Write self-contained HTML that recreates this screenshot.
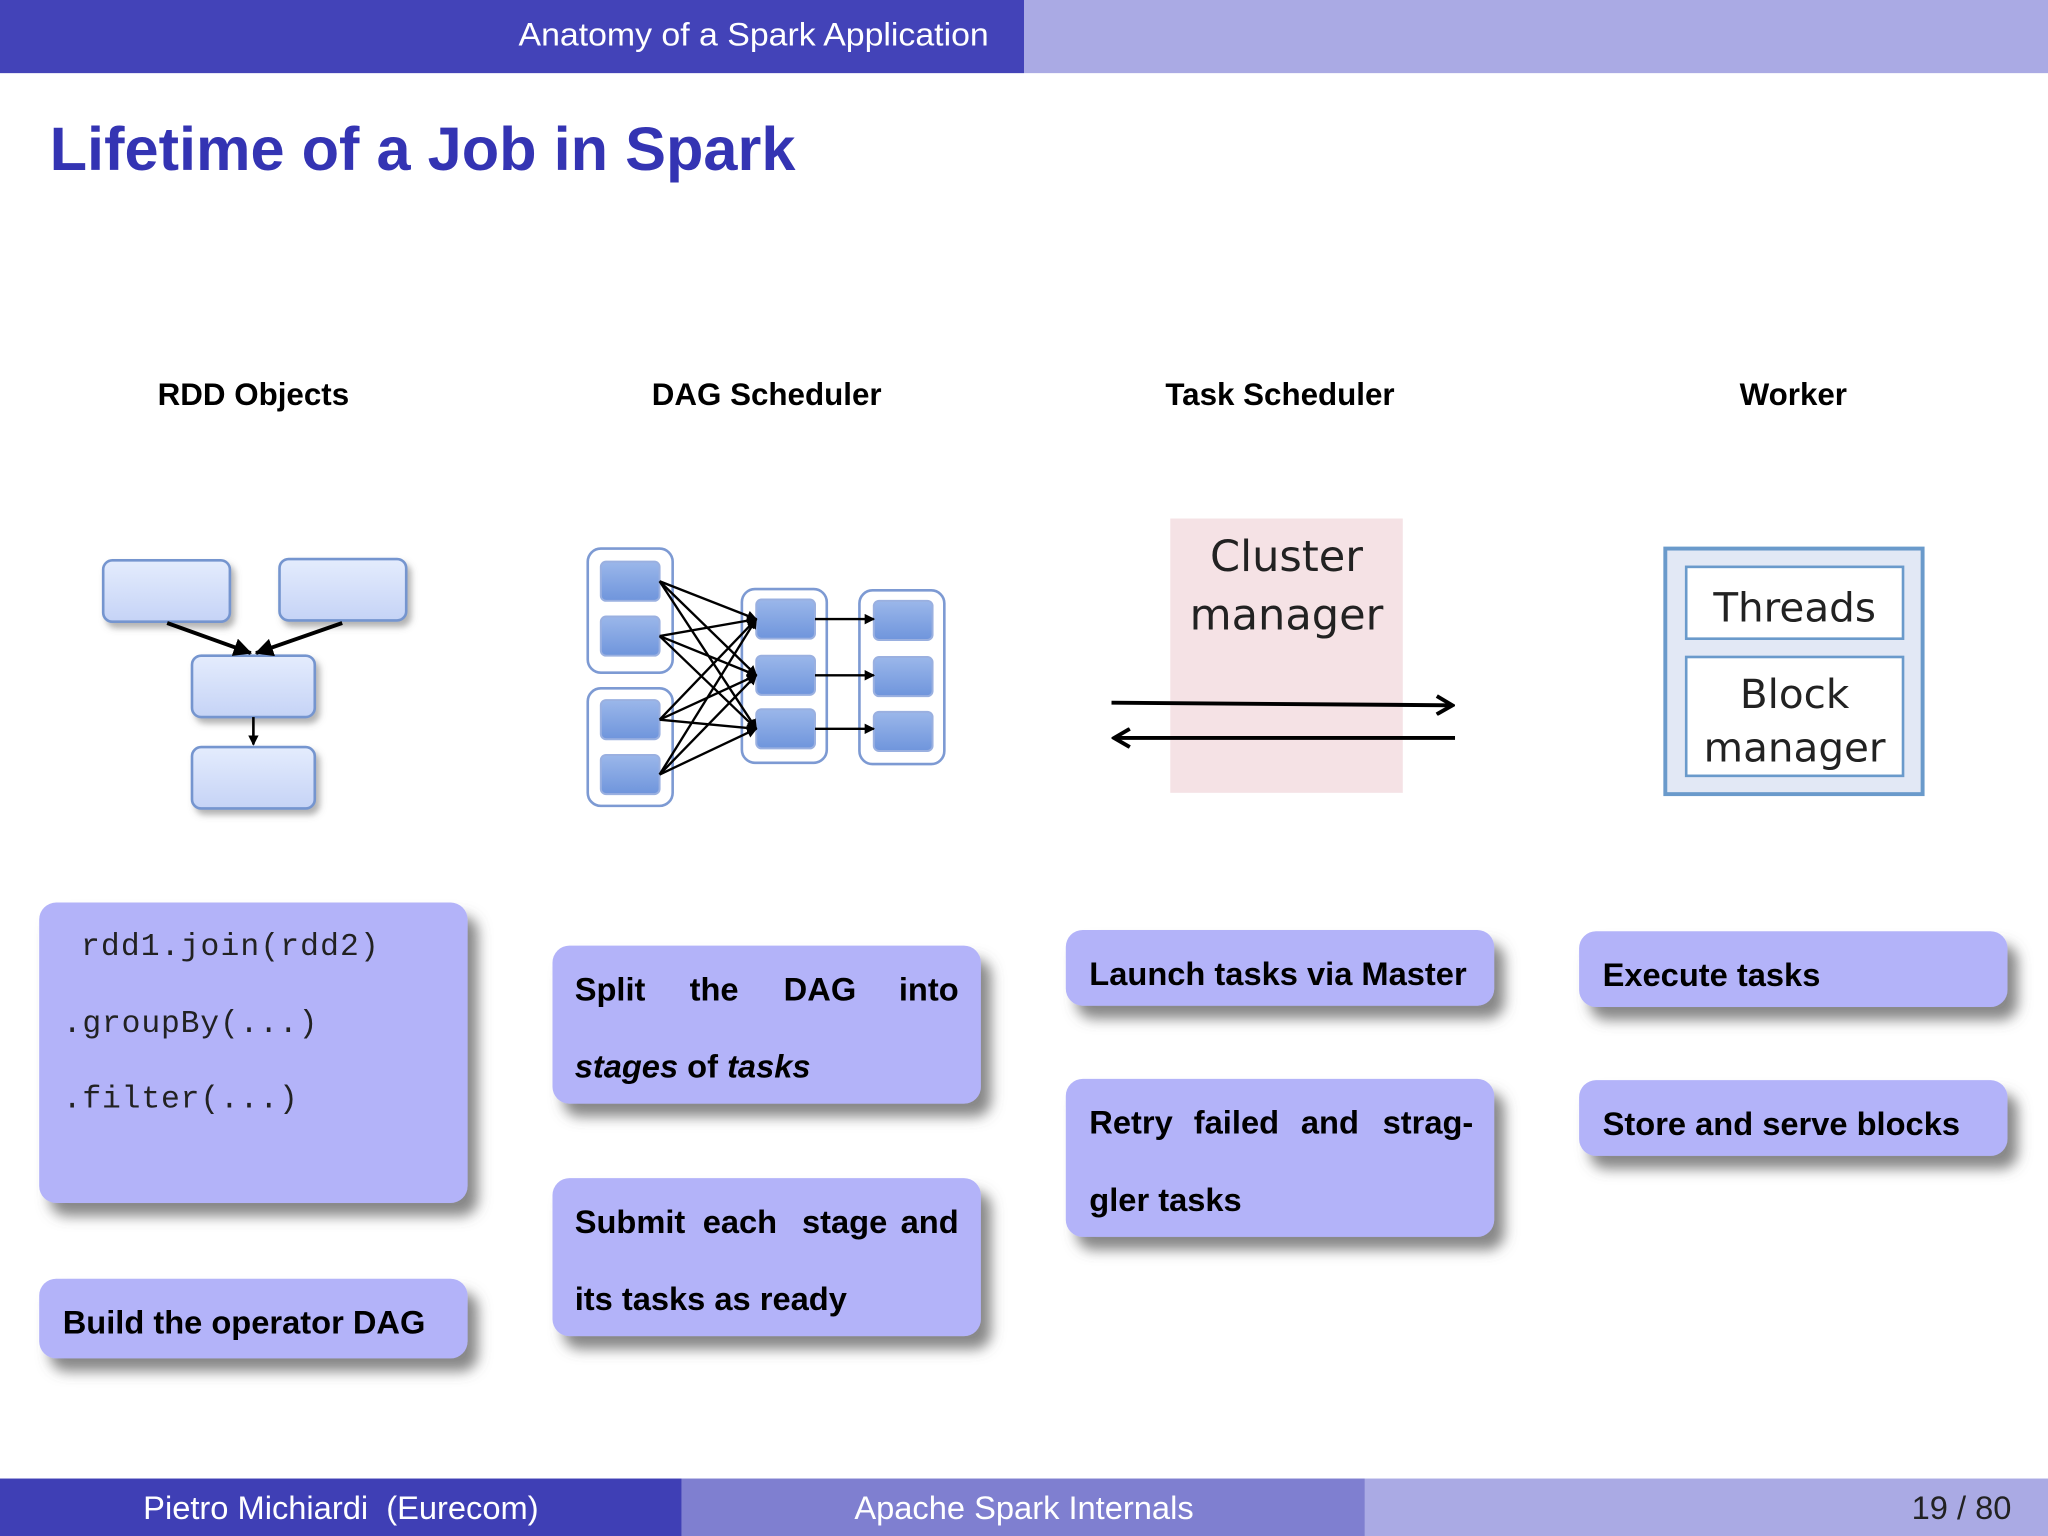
<!DOCTYPE html>
<html><head><meta charset="utf-8"><style>
html,body{margin:0;padding:0;background:#fff;}
svg{display:block;}
text{font-family:"Liberation Sans",sans-serif;}
.b{font-weight:bold;font-size:25px;fill:#000;}
.h{font-weight:bold;font-size:24px;fill:#000;text-anchor:middle;}
.m{font-family:"Liberation Mono",monospace;font-size:24px;fill:#222;}
.d{font-family:"DejaVu Sans",sans-serif;font-size:33px;fill:#222;text-anchor:middle;}
</style></head><body>
<svg width="2048" height="1536" viewBox="0 0 1568 1176" xmlns="http://www.w3.org/2000/svg">
<defs>
<filter id="sh" x="-10%" y="-10%" width="130%" height="140%"><feDropShadow dx="8" dy="10" stdDeviation="5" flood-color="#555" flood-opacity="0.7"/></filter>
<filter id="sh2" x="-10%" y="-10%" width="130%" height="140%"><feDropShadow dx="3" dy="4" stdDeviation="2.5" flood-color="#666" flood-opacity="0.5"/></filter>
<linearGradient id="lg" x1="0" y1="0" x2="0" y2="1"><stop offset="0" stop-color="#e4ecfd"/><stop offset="1" stop-color="#c5d3f6"/></linearGradient>
<linearGradient id="dg" x1="0" y1="0" x2="0" y2="1"><stop offset="0" stop-color="#9bb7ea"/><stop offset="1" stop-color="#6f95dc"/></linearGradient>
<marker id="ah" markerWidth="8" markerHeight="8" refX="7" refY="4" orient="auto" markerUnits="userSpaceOnUse"><path d="M0,0 L8,4 L0,8 Z" fill="#000"/></marker>
<marker id="ah2" markerWidth="14" markerHeight="14" refX="13" refY="7" orient="auto" markerUnits="userSpaceOnUse"><path d="M0,0 L14,7 L0,14 Z" fill="#000"/></marker>
<marker id="ao" markerWidth="16" markerHeight="16" refX="14" refY="8" orient="auto" markerUnits="userSpaceOnUse"><path d="M2,1 L14,8 L2,15" fill="none" stroke="#000" stroke-width="3"/></marker>
</defs>
<rect x="0" y="0" width="784" height="56" fill="#4343b8"/>
<rect x="784" y="0" width="784" height="56" fill="#aaaae4"/>
<text x="757" y="35" text-anchor="end" font-size="25" fill="#fff" textLength="360" lengthAdjust="spacingAndGlyphs">Anatomy of a Spark Application</text>
<text x="38" y="130" font-size="47" font-weight="bold" fill="#3434b3" textLength="571" lengthAdjust="spacingAndGlyphs">Lifetime of a Job in Spark</text>
<text class="h" x="194" y="310">RDD Objects</text>
<text class="h" x="587" y="310">DAG Scheduler</text>
<text class="h" x="980" y="310">Task Scheduler</text>
<text class="h" x="1373" y="310">Worker</text>
<g fill="url(#lg)" stroke="#7595cf" stroke-width="2" filter="url(#sh2)">
<rect x="79" y="429" width="97" height="47" rx="7"/>
<rect x="214" y="428" width="97" height="47" rx="7"/>
<rect x="147" y="502" width="94" height="47" rx="7"/>
<rect x="147" y="572" width="94" height="47" rx="7"/>
</g>
<g stroke="#000" stroke-width="3" marker-end="url(#ah2)">
<line x1="128" y1="477" x2="192" y2="500"/>
<line x1="262" y1="477" x2="196" y2="500"/>
<line x1="194" y1="549" x2="194" y2="570" stroke-width="2" marker-end="url(#ah)"/>
</g>
<g fill="#fff" stroke="#7d9ad3" stroke-width="2">
<rect x="450" y="420" width="65" height="95" rx="10"/>
<rect x="450" y="527" width="65" height="90" rx="10"/>
<rect x="568" y="451" width="65" height="133" rx="10"/>
<rect x="658" y="452" width="65" height="133" rx="10"/>
</g>
<g fill="url(#dg)" stroke="#9ab0e0" stroke-width="1.5">
<rect x="460" y="430" width="45" height="30" rx="4"/>
<rect x="460" y="472" width="45" height="30" rx="4"/>
<rect x="460" y="536" width="45" height="30" rx="4"/>
<rect x="460" y="578" width="45" height="30" rx="4"/>
<rect x="579" y="459" width="45" height="30" rx="4"/>
<rect x="579" y="502" width="45" height="30" rx="4"/>
<rect x="579" y="543" width="45" height="30" rx="4"/>
<rect x="669" y="460" width="45" height="30" rx="4"/>
<rect x="669" y="503" width="45" height="30" rx="4"/>
<rect x="669" y="545" width="45" height="30" rx="4"/>
</g>
<g stroke="#000" stroke-width="1.8" marker-end="url(#ah)">
<line x1="505" y1="445" x2="579" y2="474"/><line x1="505" y1="445" x2="579" y2="517"/><line x1="505" y1="445" x2="579" y2="558"/>
<line x1="505" y1="487" x2="579" y2="474"/><line x1="505" y1="487" x2="579" y2="517"/><line x1="505" y1="487" x2="579" y2="558"/>
<line x1="505" y1="551" x2="579" y2="474"/><line x1="505" y1="551" x2="579" y2="517"/><line x1="505" y1="551" x2="579" y2="558"/>
<line x1="505" y1="593" x2="579" y2="474"/><line x1="505" y1="593" x2="579" y2="517"/><line x1="505" y1="593" x2="579" y2="558"/>
<line x1="624" y1="474" x2="669" y2="474"/><line x1="624" y1="517" x2="669" y2="517"/><line x1="624" y1="558" x2="669" y2="558"/>
</g>
<rect x="896" y="397" width="178" height="210" fill="#f5e2e5"/>
<text class="d" x="985" y="437">Cluster</text>
<text class="d" x="985" y="482">manager</text>
<line x1="851" y1="538" x2="1112" y2="540" stroke="#000" stroke-width="3" marker-end="url(#ao)"/>
<line x1="1114" y1="565" x2="853" y2="565" stroke="#000" stroke-width="3" marker-end="url(#ao)"/>
<rect x="1275" y="420" width="197" height="188" fill="#e2e8f5" stroke="#6a9acb" stroke-width="3"/>
<rect x="1291" y="434" width="166" height="55" fill="#fff" stroke="#6a9acb" stroke-width="2"/>
<rect x="1291" y="503" width="166" height="91" fill="#fff" stroke="#6a9acb" stroke-width="2"/>
<text class="d" x="1374" y="476" style="font-size:31px">Threads</text>
<text class="d" x="1374" y="542" style="font-size:31px">Block</text>
<text class="d" x="1374" y="583" style="font-size:31px">manager</text>
<g fill="#b3b3f9" filter="url(#sh)">
<rect x="30" y="691" width="328" height="230" rx="13"/>
<rect x="30" y="979" width="328" height="61" rx="13"/>
<rect x="423" y="724" width="328" height="121" rx="13"/>
<rect x="423" y="902" width="328" height="121" rx="13"/>
<rect x="816" y="712" width="328" height="58" rx="13"/>
<rect x="816" y="826" width="328" height="121" rx="13"/>
<rect x="1209" y="713" width="328" height="58" rx="13"/>
<rect x="1209" y="827" width="328" height="58" rx="13"/>
</g>
<text class="m" x="62" y="731" textLength="228" lengthAdjust="spacing">rdd1.join(rdd2)</text>
<text class="m" x="48" y="790" textLength="195" lengthAdjust="spacing">.groupBy(...)</text>
<text class="m" x="48" y="848" textLength="180" lengthAdjust="spacing">.filter(...)</text>
<text class="b" x="48" y="1021">Build the operator DAG</text>
<text class="b" x="440" y="766">Split</text><text class="b" x="528" y="766">the</text><text class="b" x="600" y="766">DAG</text><text class="b" x="734" y="766" text-anchor="end">into</text>
<text class="b" x="440" y="825"><tspan font-style="italic">stages</tspan> of <tspan font-style="italic">tasks</tspan></text>
<text class="b" x="440" y="944">Submit</text><text class="b" x="538" y="944">each</text><text class="b" x="614" y="944">stage</text><text class="b" x="734" y="944" text-anchor="end">and</text>
<text class="b" x="440" y="1003">its tasks as ready</text>
<text class="b" x="834" y="754">Launch tasks via Master</text>
<text class="b" x="834" y="868">Retry</text><text class="b" x="914" y="868">failed</text><text class="b" x="996" y="868">and</text><text class="b" x="1128" y="868" text-anchor="end">strag-</text>
<text class="b" x="834" y="927">gler tasks</text>
<text class="b" x="1227" y="755">Execute tasks</text>
<text class="b" x="1227" y="869">Store and serve blocks</text>
<rect x="0" y="1132" width="522" height="44" fill="#3f3fb5"/>
<rect x="522" y="1132" width="523" height="44" fill="#7f7fd0"/>
<rect x="1045" y="1132" width="523" height="44" fill="#aaaae4"/>
<text x="261" y="1163" text-anchor="middle" font-size="25" fill="#fff" xml:space="preserve">Pietro Michiardi  (Eurecom)</text>
<text x="784" y="1163" text-anchor="middle" font-size="25" fill="#fff">Apache Spark Internals</text>
<text x="1540" y="1163" text-anchor="end" font-size="25" fill="#222">19 / 80</text>
</svg>
</body></html>
